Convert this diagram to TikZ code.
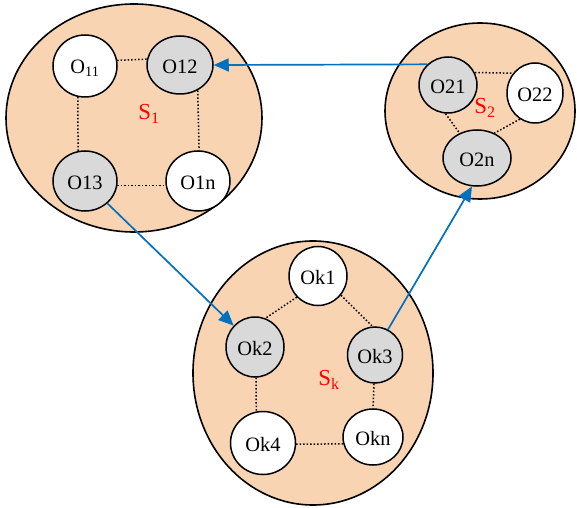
\documentclass[tikz,border=0pt]{standalone}
\usepackage{fontspec}
\setmainfont{Liberation Serif}
\usetikzlibrary{shapes.geometric,arrows.meta}
\definecolor{peach}{HTML}{F9D4B3}
\definecolor{lgray}{HTML}{D9D9D9}
\definecolor{arrowblue}{HTML}{0070C0}
\begin{document}
\begin{tikzpicture}[x=1bp,y=-1bp,
 group/.style={ellipse,draw=black,line width=1.6bp,fill=peach,inner sep=0},
 obj/.style={ellipse,draw=black,line width=1.5bp,fill=white,inner sep=0,text height=18bp,font=\fontsize{20.5}{24}\selectfont},
 act/.style={obj,fill=lgray},
 link/.style={line width=1.5bp,dash pattern=on 1.5bp off 2bp},
 flow/.style={draw=arrowblue,line width=1.7bp,-{Triangle[length=15bp,width=13bp]}},
 slabel/.style={text=red,font=\fontsize{23}{26}\selectfont,inner sep=0}]
\fill[white] (0,0) rectangle (577,508);
\useasboundingbox (0,0) rectangle (577,508);
% groups
\node[group,minimum width=256bp,minimum height=228bp] (S1) at (134,118) {};
\node[group,minimum width=190bp,minimum height=176bp] (S2) at (480,111) {};
\node[group,minimum width=240bp,minimum height=264bp] (Sk) at (313,373) {};
% objects S1
\node[obj,minimum width=64bp,minimum height=62bp] (O11) at (85,66) {O\textsubscript{11}};
\node[act,minimum width=66bp,minimum height=58bp] (O12) at (180,65) {O12};
\node[act,minimum width=64bp,minimum height=60bp] (O13) at (85,181) {O13};
\node[obj,minimum width=64bp,minimum height=60bp] (O1n) at (198,181) {O1n};
% objects S2
\node[act,minimum width=58bp,minimum height=56bp] (O21) at (448,85) {O21};
\node[obj,minimum width=56bp,minimum height=60bp] (O22) at (535,93) {O22};
\node[act,minimum width=68bp,minimum height=56bp] (O2n) at (477,158) {O2n};
% objects Sk
\node[obj,minimum width=58bp,minimum height=59bp] (Ok1) at (318,276) {Ok1};
\node[act,minimum width=58bp,minimum height=60bp] (Ok2) at (255,347) {Ok2};
\node[act,minimum width=55bp,minimum height=56bp] (Ok3) at (375,355) {Ok3};
\node[obj,minimum width=65bp,minimum height=63bp] (Ok4) at (263,443) {Ok4};
\node[obj,minimum width=60bp,minimum height=56bp] (Okn) at (373,437) {Okn};
% labels
\node[slabel] (L1) at (149,114) {S\textsubscript{1}};
\node[slabel] (L2) at (485,108) {S\textsubscript{2}};
\node[slabel] (Lk) at (329,380) {S\textsubscript{k}};
% dotted links
\draw[link] (O11.10) -- (O12.170);
\draw[link] (O11.-103) -- (O13.103);
\draw[link] (O12.-55) -- (O1n.88);
\draw[link] (O13.-8) -- (O1n.188);
\draw[link] (O21.25) -- (O22.138);
\draw[link] (O21.-95) -- (O2n.125);
\draw[link] (O22.-120) -- (O2n.55);
\draw[link] (Ok1.-135) -- (Ok2.70);
\draw[link] (Ok1.-40) -- (Ok3.95);
\draw[link] (Ok2.-88) -- (Ok4.102);
\draw[link] (Ok3.-92) -- (Okn.90);
\draw[link] (Ok4.-2) -- (Okn.193);
% flows
\draw[flow] (O21.135) -- (O12.east);
\draw[flow] (O13.-45) -- (Ok2.135);
\draw[flow] (Ok3.63) -- (O2n.-100);
\end{tikzpicture}
\end{document}
